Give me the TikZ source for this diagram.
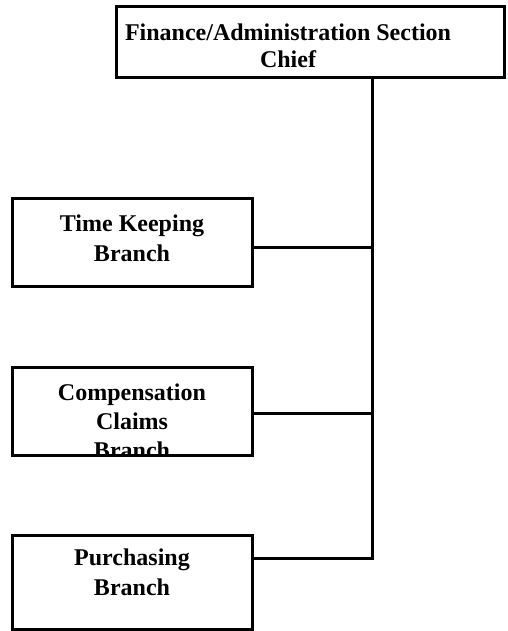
\documentclass[tikz,border=0pt]{standalone}
\usepackage{fontspec}
\setmainfont{Liberation Serif}
\begin{document}
\begin{tikzpicture}[x=1pt,y=-1pt,
  box/.style={draw,line width=3pt,inner sep=0pt,fill=none},
  lbl/.style={font=\fontsize{24}{30}\bfseries\selectfont,anchor=base,inner sep=0pt},
  link/.style={line width=3pt}]
\useasboundingbox (0,0) rectangle (508,631);
% boxes
\node[box,minimum width=388pt,minimum height=71pt] (chief) at (310,42.5) {};
\node[box,minimum width=240pt,minimum height=88pt] (tk) at (132,242) {};
\node[box,minimum width=240pt,minimum height=88pt] (cc) at (132,411) {};
\node[box,minimum width=240pt,minimum height=94pt] (pu) at (132,582) {};
% labels
\node[lbl] (chief1) at (288,41) {Finance/Administration Section};
\node[lbl] (chief2) at (288,68) {Chief};
\node[lbl] (tk1) at (132,231) {Time Keeping};
\node[lbl] (tk2) at (132,261) {Branch};
\begin{scope}
  \clip (cc.north west) rectangle (cc.south east);
  \node[lbl] (cc1) at (132,400) {Compensation};
  \node[lbl] (cc2) at (132,429) {Claims};
  \node[lbl] (cc3) at (132,458) {Branch};
\end{scope}
\node[lbl] (pu1) at (132,565) {Purchasing};
\node[lbl] (pu2) at (132,595) {Branch};
% connectors
\coordinate (j1) at (372,247);
\coordinate (j2) at (372,413);
\coordinate (j3) at (372,558);
\draw[link] (j3 |- chief.south) -- (j3) -- (j3 -| pu.east);
\draw[link] (j1 -| tk.east) -- (j1);
\draw[link] (j2 -| cc.east) -- (j2);
\end{tikzpicture}
\end{document}
